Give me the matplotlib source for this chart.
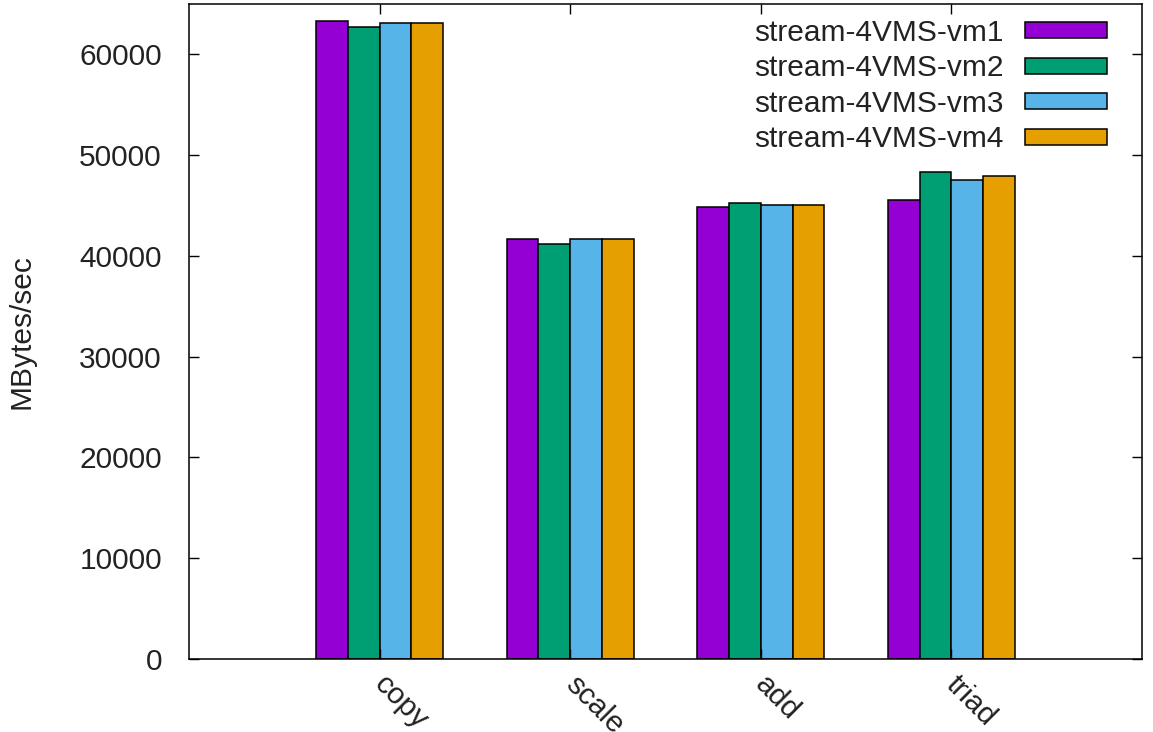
import matplotlib
matplotlib.use("Agg")
import matplotlib.pyplot as plt
import matplotlib.transforms as mtransforms
import numpy as np

categories = ["copy", "scale", "add", "triad"]
series_names = ["stream-4VMS-vm1", "stream-4VMS-vm2", "stream-4VMS-vm3", "stream-4VMS-vm4"]
vm1 = [63350, 41720, 44900, 45500]
vm2 = [62710, 41190, 45300, 48300]
vm3 = [63110, 41720, 45100, 47580]
vm4 = [63110, 41720, 45070, 47950]
colors = ["#9400d3", "#009e73", "#56b4e9", "#e69f00"]
yticks = [0, 10000, 20000, 30000, 40000, 50000, 60000]

plt.rcParams['font.family'] = ['Liberation Sans', 'DejaVu Sans']
FS = 21.5
TC = "#222222"

fig = plt.figure(figsize=(11.53, 7.32), dpi=100)
ax = fig.add_axes([189/1153, 1 - 659/732, (1142-189)/1153, (659-4)/732])

x = np.arange(len(categories))
w = 1/6
for j, (vals, name, c) in enumerate(zip([vm1, vm2, vm3, vm4], series_names, colors)):
    ax.bar(x + (j - 1.5) * w, vals, width=w, color=c, edgecolor="black",
           linewidth=1.1, label=name)

ax.set_xlim(-1, 4)
ax.set_ylim(0, 65000)
ax.set_yticks(yticks)
ax.set_yticklabels([str(v) for v in yticks], fontsize=FS, color=TC)
ax.set_xticks(x)
ax.set_xticklabels(categories, rotation=-45, ha="left", va="top",
                   rotation_mode="anchor", fontsize=FS, color=TC)
ax.tick_params(axis="both", direction="in", length=7, width=1.0,
               top=True, right=True)
ax.tick_params(axis="y", pad=19.5)
ax.tick_params(axis="x", pad=0)
off = mtransforms.ScaledTranslation(9/100, -11/100, fig.dpi_scale_trans)
for lab in ax.get_xticklabels():
    lab.set_transform(lab.get_transform() + off)
for s in ax.spines.values():
    s.set_linewidth(1.1)
ax.set_ylabel("MBytes/sec", fontsize=FS, color=TC)
ax.yaxis.set_label_coords((36-189)/953, 0.5)

leg = ax.legend(loc="upper right", frameon=False, fontsize=FS, markerfirst=False,
                handlelength=2.75, handleheight=0.45, labelspacing=0.25,
                handletextpad=0.72, borderaxespad=0.0, borderpad=0.0,
                bbox_to_anchor=((1107-189)/953, (659-19)/655))
for t in leg.get_texts():
    t.set_color(TC)

fig.savefig("out.png", dpi=100)
